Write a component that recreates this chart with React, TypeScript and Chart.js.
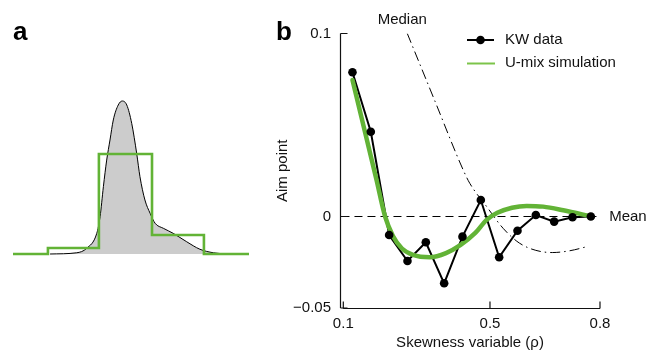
import React, { useEffect, useRef } from 'react';
import { Chart, registerables } from 'chart.js';

Chart.register(...registerables);

const FONT = '"Liberation Sans", Arial, Helvetica, sans-serif';
const GREEN = '#62b336';
const INK = '#111111';

// ---------- Panel a data (arbitrary units) ----------
const densityX = [1.57, 2.7, 3.12, 3.55, 3.69, 3.83, 3.97, 4.11, 4.25, 4.46, 4.63, 4.82, 5.03, 5.24, 5.38, 5.59, 5.81, 6.02, 6.37, 6.79, 7.36, 7.92, 8.49, 9.06];
const densityY = [0, 0.008, 0.037, 0.135, 0.244, 0.44, 0.614, 0.745, 0.876, 0.974, 1.0, 0.974, 0.854, 0.658, 0.505, 0.353, 0.266, 0.201, 0.168, 0.135, 0.08, 0.031, 0.008, 0];
const stepEdges = [0, 1.48, 3.64, 5.89, 8.09, 10];
const stepHeights = [0, 0.039, 0.654, 0.124, 0, 0];

// ---------- Panel b data ----------
const kwX = [0.125, 0.175, 0.225, 0.275, 0.325, 0.375, 0.425, 0.475, 0.525, 0.575, 0.625, 0.675, 0.725, 0.775];
const kwY = [0.0788, 0.0463, -0.0101, -0.0243, -0.0141, -0.0365, -0.011, 0.009, -0.0223, -0.0078, 0.0008, -0.0028, -0.0004, 0];

const umixX = [0.125, 0.16, 0.19, 0.214, 0.235, 0.26, 0.29, 0.336, 0.38, 0.42, 0.46, 0.49, 0.52, 0.56, 0.6, 0.645, 0.7, 0.777];
const umixY = [0.0746, 0.0455, 0.0205, 0, -0.0105, -0.0175, -0.021, -0.0223, -0.02, -0.0155, -0.009, -0.002, 0.002, 0.0048, 0.0058, 0.0054, 0.0034, 0];

const medianX = [0.2745, 0.35, 0.427, 0.445, 0.491, 0.536, 0.58, 0.625, 0.67, 0.718, 0.768];
const medianY = [0.1, 0.063, 0.0254, 0.0181, 0.0054, -0.0065, -0.0145, -0.0185, -0.0197, -0.0187, -0.0163];

const meanX = [0.095, 0.795];
const meanValue = 0;

const xTicks = [0.1, 0.5, 0.8];
const xTickLabels = ['0.1', '0.5', '0.8'];
const yTicks = [-0.05, 0, 0.1];
const yTickLabels = ['\u22120.05', '0', '0.1'];

const legendLabels = ['KW data', 'U-mix simulation'];

const zip = (xs: number[], ys: number[]) => xs.map((x, i) => ({ x, y: ys[i] }));

const panelAPlugin = {
  id: 'panelA',
  afterDraw(chart: any) {
    const ctx = chart.ctx;
    ctx.save();
    ctx.fillStyle = '#000';
    ctx.font = `bold 26px ${FONT}`;
    ctx.textBaseline = 'alphabetic';
    ctx.textAlign = 'left';
    ctx.fillText('a', 13, 40);
    ctx.restore();
  },
};

const panelBPlugin = {
  id: 'panelB',
  afterDatasetsDraw(chart: any) {
    const ctx = chart.ctx;
    const xs = chart.scales.x;
    const ys = chart.scales.y;
    const area = chart.chartArea;
    ctx.save();
    ctx.strokeStyle = INK;
    ctx.lineWidth = 1.2;
    // y axis
    const yTop = ys.getPixelForValue(yTicks[yTicks.length - 1]);
    const yBot = ys.getPixelForValue(yTicks[0]);
    const ax = Math.round(area.left) + 0.5;
    ctx.beginPath();
    ctx.moveTo(ax, yTop);
    ctx.lineTo(ax, yBot);
    yTicks.forEach((v) => {
      const p = ys.getPixelForValue(v);
      ctx.moveTo(ax, p);
      ctx.lineTo(ax + 7, p);
    });
    ctx.stroke();
    // x axis
    const x0 = xs.getPixelForValue(xTicks[0]);
    const x1 = xs.getPixelForValue(xTicks[xTicks.length - 1]);
    const ay = Math.round(area.bottom) + 0.5;
    ctx.beginPath();
    ctx.moveTo(x0, ay);
    ctx.lineTo(x1, ay);
    xTicks.forEach((v) => {
      const p = xs.getPixelForValue(v);
      ctx.moveTo(p, ay);
      ctx.lineTo(p, ay - 7);
    });
    ctx.stroke();

    // annotations
    ctx.fillStyle = INK;
    ctx.font = `15px ${FONT}`;
    ctx.textBaseline = 'middle';
    ctx.textAlign = 'center';
    ctx.fillText('Median', xs.getPixelForValue(medianX[0]) - 5, 20);
    ctx.textAlign = 'left';
    ctx.fillText('Mean', xs.getPixelForValue(meanX[1]) + 11, ys.getPixelForValue(meanValue));

    // legend
    const lx0 = 467, lx1 = 494, tx = 505;
    ctx.strokeStyle = '#000';
    ctx.lineWidth = 2;
    ctx.beginPath();
    ctx.moveTo(lx0, 40);
    ctx.lineTo(lx1, 40);
    ctx.stroke();
    ctx.fillStyle = '#000';
    ctx.beginPath();
    ctx.arc((lx0 + lx1) / 2, 40, 4.3, 0, Math.PI * 2);
    ctx.fill();
    ctx.strokeStyle = '#7cc44a';
    ctx.lineWidth = 2;
    ctx.beginPath();
    ctx.moveTo(lx0, 63.5);
    ctx.lineTo(lx1 + 1, 63.5);
    ctx.stroke();
    ctx.fillStyle = INK;
    ctx.fillText(legendLabels[0], tx, 40);
    ctx.fillText(legendLabels[1], tx, 63);

    // panel letter
    ctx.fillStyle = '#000';
    ctx.font = `bold 26px ${FONT}`;
    ctx.textBaseline = 'alphabetic';
    ctx.fillText('b', 276, 40);
    ctx.restore();
  },
};

export default function App() {
  const refA = useRef<HTMLCanvasElement>(null);
  const refB = useRef<HTMLCanvasElement>(null);

  useEffect(() => {
    Chart.defaults.font.family = FONT;
    const chartA = new Chart(refA.current as HTMLCanvasElement, {
      type: 'line',
      data: {
        datasets: [
          {
            label: 'step',
            data: zip(stepEdges, stepHeights),
            borderColor: GREEN,
            borderWidth: 2.6,
            stepped: 'before',
            pointRadius: 0,
            fill: false,
            clip: false,
          } as any,
          {
            label: 'density',
            data: zip(densityX, densityY),
            borderColor: '#000',
            borderWidth: 1,
            backgroundColor: '#cccccc',
            fill: 'origin',
            cubicInterpolationMode: 'monotone',
            pointRadius: 0,
            clip: false,
          } as any,
        ],
      },
      options: {
        animation: false,
        responsive: false,
        events: [],
        layout: { padding: { left: 13, right: 13, top: 101, bottom: 98 } },
        plugins: { legend: { display: false }, tooltip: { enabled: false } },
        scales: {
          x: { type: 'linear', min: 0, max: 10, display: false },
          y: { type: 'linear', min: 0, max: 1, display: false },
        },
      },
      plugins: [panelAPlugin],
    });

    const tickFont = { size: 15, family: FONT };
    const chartB = new Chart(refB.current as HTMLCanvasElement, {
      type: 'line',
      data: {
        datasets: [
          {
            label: 'Mean',
            data: meanX.map((x) => ({ x, y: meanValue })),
            borderColor: '#000',
            borderWidth: 1.2,
            borderDash: [8, 5],
            pointRadius: 0,
            order: 6,
          },
          {
            label: 'Median',
            data: zip(medianX, medianY),
            borderColor: '#000',
            borderWidth: 1,
            borderDash: [10, 4, 1.5, 4],
            cubicInterpolationMode: 'monotone',
            pointRadius: 0,
            order: 5,
          },
          {
            label: 'KW line',
            data: zip(kwX, kwY),
            borderColor: '#000',
            borderWidth: 2,
            pointRadius: 0,
            order: 4,
          },
          {
            label: 'U-mix simulation',
            data: zip(umixX, umixY),
            borderColor: GREEN,
            borderWidth: 4.5,
            cubicInterpolationMode: 'monotone',
            pointRadius: 0,
            borderCapStyle: 'round',
            order: 3,
          },
          {
            label: 'KW data',
            data: zip(kwX, kwY),
            showLine: false,
            pointRadius: 4.3,
            pointBackgroundColor: '#000',
            pointBorderColor: '#000',
            pointBorderWidth: 0,
            order: 1,
          },
        ] as any,
      },
      options: {
        animation: false,
        responsive: false,
        events: [],
        layout: { padding: { left: 270, right: 49, top: 33.5, bottom: 0 } },
        plugins: { legend: { display: false }, tooltip: { enabled: false } },
        scales: {
          x: {
            type: 'linear',
            min: 0.091,
            max: 0.8,
            afterFit: (s: any) => { s.height = 44; },
            afterBuildTicks: (s: any) => { s.ticks = xTicks.map((v) => ({ value: v })); },
            grid: { display: false, drawTicks: false },
            border: { display: false },
            ticks: {
              padding: 7,
              font: tickFont,
              color: INK,
              autoSkip: false,
              maxRotation: 0,
              callback: (_v: any, i: number) => xTickLabels[i],
            },
            title: { display: true, text: 'Skewness variable (\u03C1)', font: { size: 15, family: FONT }, color: INK, padding: { top: 0, bottom: 0 } },
          },
          y: {
            type: 'linear',
            min: -0.05,
            max: 0.1,
            afterFit: (s: any) => { s.width = 70; },
            afterBuildTicks: (s: any) => { s.ticks = yTicks.map((v) => ({ value: v })); },
            grid: { display: false, drawTicks: false },
            border: { display: false },
            ticks: {
              padding: 9,
              font: tickFont,
              color: INK,
              autoSkip: false,
              callback: (_v: any, i: number) => yTickLabels[i],
            },
            title: { display: true, text: 'Aim point', font: { size: 15, family: FONT }, color: INK, padding: { top: 4, bottom: 0 } },
          },
        },
      },
      plugins: [panelBPlugin],
    });

    return () => {
      chartA.destroy();
      chartB.destroy();
    };
  }, []);

  return (
    <div style={{ position: 'fixed', left: 0, top: 0, width: 649, height: 352, background: '#fff', overflow: 'hidden' }}>
      <canvas ref={refA} width={262} height={352} style={{ position: 'absolute', left: 0, top: 0, width: 262, height: 352, display: 'block' }} />
      <canvas ref={refB} width={649} height={352} style={{ position: 'absolute', left: 0, top: 0, width: 649, height: 352, display: 'block' }} />
    </div>
  );
}
